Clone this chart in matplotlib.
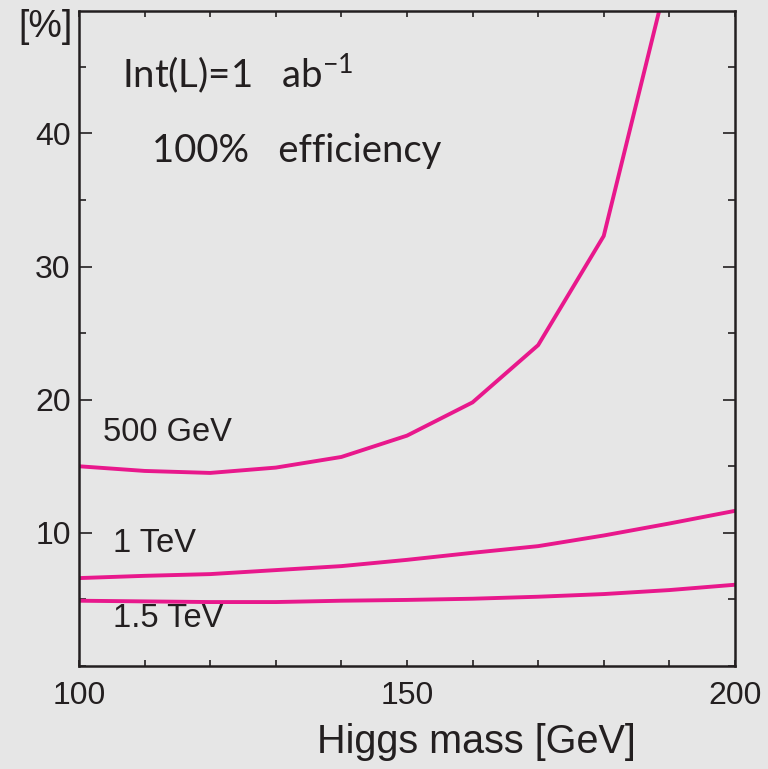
import matplotlib
matplotlib.use("Agg")
import matplotlib.pyplot as plt
from matplotlib.ticker import MultipleLocator, FixedLocator

# Higgs mass points [GeV]
mass = [100, 110, 120, 130, 140, 150, 160, 170, 180, 190, 200]
# relative error [%] for each collider energy
err_500gev = [15.0, 14.65, 14.5, 14.9, 15.7, 17.3, 19.8, 24.1, 32.3, 52.3, 80.0]
err_1tev = [6.6, 6.77, 6.9, 7.2, 7.5, 7.97, 8.5, 9.0, 9.8, 10.7, 11.65]
err_15tev = [4.9, 4.85, 4.8, 4.8, 4.9, 4.96, 5.05, 5.2, 5.4, 5.7, 6.1]

curve_labels = ["500 GeV", "1 TeV", "1.5 TeV"]
label_pos = [(103.7, 17.5), (105.2, 9.2), (105.2, 3.6)]

pink = "#e8188c"
bg = "#e6e6e6"
ink = "#231f20"

plt.rcParams["font.family"] = ["Liberation Sans", "DejaVu Sans"]
plt.rcParams["mathtext.fontset"] = "custom"
plt.rcParams["mathtext.rm"] = "Lato"
plt.rcParams["mathtext.it"] = "Lato:italic"

fig = plt.figure(figsize=(7.68, 7.69), dpi=100, facecolor=bg)
ax = fig.add_axes([0.1029, 0.134, 0.854, 0.8517], facecolor=bg)

for y in [err_500gev, err_1tev, err_15tev]:
    ax.plot(mass, y, color=pink, lw=2.8, solid_joinstyle="miter")

for txt, (x, y) in zip(curve_labels, label_pos):
    ax.text(x, y, txt, fontsize=23.5, va="center", ha="left", color=ink)

lato = ["Lato", "DejaVu Sans"]
ax.text(106.6, 44.5, r"Int(L)=1   ab$^{\mathrm{-1}}$", fontsize=27.5, va="center", ha="left",
        family=lato, color=ink)
ax.text(111.1, 38.7, "100%   efficiency", fontsize=27.5, va="center", ha="left",
        family=lato, color=ink)

ax.set_xlim(100, 200)
ax.set_ylim(0, 49.2)

ax.xaxis.set_major_locator(FixedLocator([100, 150, 200]))
ax.xaxis.set_minor_locator(MultipleLocator(10))
ax.yaxis.set_major_locator(FixedLocator([10, 20, 30, 40]))
ax.yaxis.set_minor_locator(MultipleLocator(5))

ax.tick_params(axis="both", which="both", direction="in", top=True, right=True,
               color=ink, labelcolor=ink, labelsize=23)
ax.tick_params(axis="x", which="both", length=4, width=1.2, pad=11)
ax.tick_params(axis="y", which="major", length=9, width=1.2, pad=6)
ax.tick_params(axis="y", which="minor", length=5, width=1.2)

for s in ax.spines.values():
    s.set_linewidth(1.8)
    s.set_color(ink)

fig.text(0.024, 0.965, "[%]", fontsize=27, va="center", ha="left", color=ink)
fig.text(0.621, 0.035, "Higgs mass [GeV]", fontsize=28.5, va="center", ha="center", color=ink)

fig.savefig("out.png", dpi=100, facecolor=bg)
